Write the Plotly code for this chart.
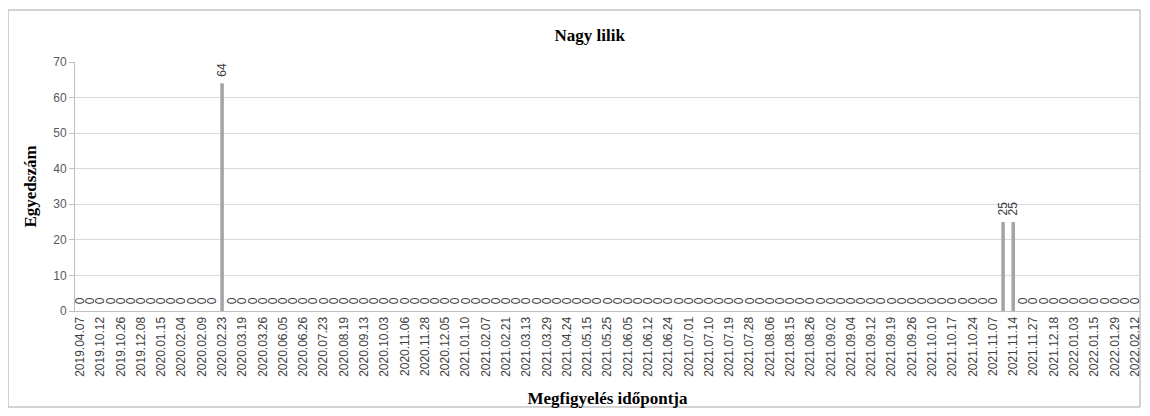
import plotly.graph_objects as go

# Tick labels (Excel shows every second category label)
tick_labels = [
    "2019.04.07", "2019.10.12", "2019.10.26", "2019.12.08", "2020.01.15", "2020.02.04",
    "2020.02.09", "2020.02.23", "2020.03.19", "2020.03.26", "2020.06.05", "2020.06.26",
    "2020.07.23", "2020.08.19", "2020.09.13", "2020.10.03", "2020.11.06", "2020.11.28",
    "2020.12.05", "2021.01.10", "2021.02.07", "2021.02.21", "2021.03.13", "2021.03.29",
    "2021.04.24", "2021.05.15", "2021.05.25", "2021.06.05", "2021.06.12", "2021.06.24",
    "2021.07.01", "2021.07.10", "2021.07.19", "2021.07.28", "2021.08.06", "2021.08.15",
    "2021.08.26", "2021.09.02", "2021.09.04", "2021.09.12", "2021.09.19", "2021.09.26",
    "2021.10.10", "2021.10.17", "2021.10.24", "2021.11.07", "2021.11.14", "2021.11.27",
    "2021.12.18", "2022.01.03", "2022.01.15", "2022.01.29", "2022.02.12",
]

# Observation counts, one per observation (105 observations)
counts = [
    0, 0, 0, 0, 0, 0, 0, 0, 0, 0, 0, 0, 0, 0, 64, 0, 0, 0, 0, 0,
    0, 0, 0, 0, 0, 0, 0, 0, 0, 0, 0, 0, 0, 0, 0, 0, 0, 0, 0, 0,
    0, 0, 0, 0, 0, 0, 0, 0, 0, 0, 0, 0, 0, 0, 0, 0, 0, 0, 0, 0,
    0, 0, 0, 0, 0, 0, 0, 0, 0, 0, 0, 0, 0, 0, 0, 0, 0, 0, 0, 0,
    0, 0, 0, 0, 0, 0, 0, 0, 0, 0, 0, 25, 25, 0, 0, 0, 0, 0, 0, 0,
    0, 0, 0, 0, 0,
]

obs_index = list(range(len(counts)))
tick_positions = obs_index[::2]

title_text = "Nagy lilik"
y_title = "Egyedszám"
x_title = "Megfigyelés időpontja"

# small gap between bar end and its rotated label (non-breaking spaces)
label_pad = "\u00a0\u00a0"

fig = go.Figure()
fig.add_trace(go.Bar(
    x=obs_index,
    y=counts,
    width=0.35,
    marker=dict(color="#A5A5A5", line=dict(width=0)),
    text=[label_pad + str(v) for v in counts],
    textposition="outside",
    textangle=-90,
    textfont=dict(family="Liberation Sans", size=12, color="#404040"),
    cliponaxis=False,
    hoverinfo="x+y",
))

fig.update_layout(
    width=1134,
    height=400,
    margin=dict(l=67, r=2, t=54, b=97),
    paper_bgcolor="white",
    plot_bgcolor="white",
    showlegend=False,
    uniformtext=dict(minsize=12, mode="show"),
    title=dict(
        text=f"<b>{title_text}</b>",
        x=0.513, xanchor="center",
        y=0.9325, yanchor="middle",
        font=dict(family="Liberation Serif", size=17, color="black"),
    ),
    xaxis=dict(
        range=[-0.5, len(counts) - 0.5],
        tickmode="array",
        tickvals=tick_positions,
        ticktext=tick_labels,
        tickangle=-90,
        tickfont=dict(family="Liberation Sans", size=12, color="#404040"),
        showgrid=False,
        showline=True,
        linecolor="#BFBFBF",
        linewidth=1,
        ticks="",
        zeroline=False,
        title=dict(
            text=f"<b>{x_title}</b>",
            font=dict(family="Liberation Serif", size=17, color="black"),
            standoff=16,
        ),
        automargin=False,
    ),
    yaxis=dict(
        range=[0, 70],
        dtick=10,
        tickfont=dict(family="Liberation Sans", size=12, color="#595959"),
        showgrid=True,
        gridcolor="#D9D9D9",
        gridwidth=1,
        showline=True,
        linecolor="#BFBFBF",
        linewidth=1,
        ticks="outside",
        ticklen=5,
        tickcolor="#BFBFBF",
        zeroline=False,
        title=dict(
            text=f"<b>{y_title}</b>",
            font=dict(family="Liberation Serif", size=17, color="black"),
            standoff=12,
        ),
        automargin=False,
    ),
    shapes=[
        dict(
            type="rect", xref="paper", yref="paper",
            x0=-0.0629, x1=1.0, y0=-0.3855, y1=1.2088,
            line=dict(color="#A6A6A6", width=1),
            fillcolor="rgba(0,0,0,0)", layer="below",
        )
    ],
)

fig.write_html("out.html")
